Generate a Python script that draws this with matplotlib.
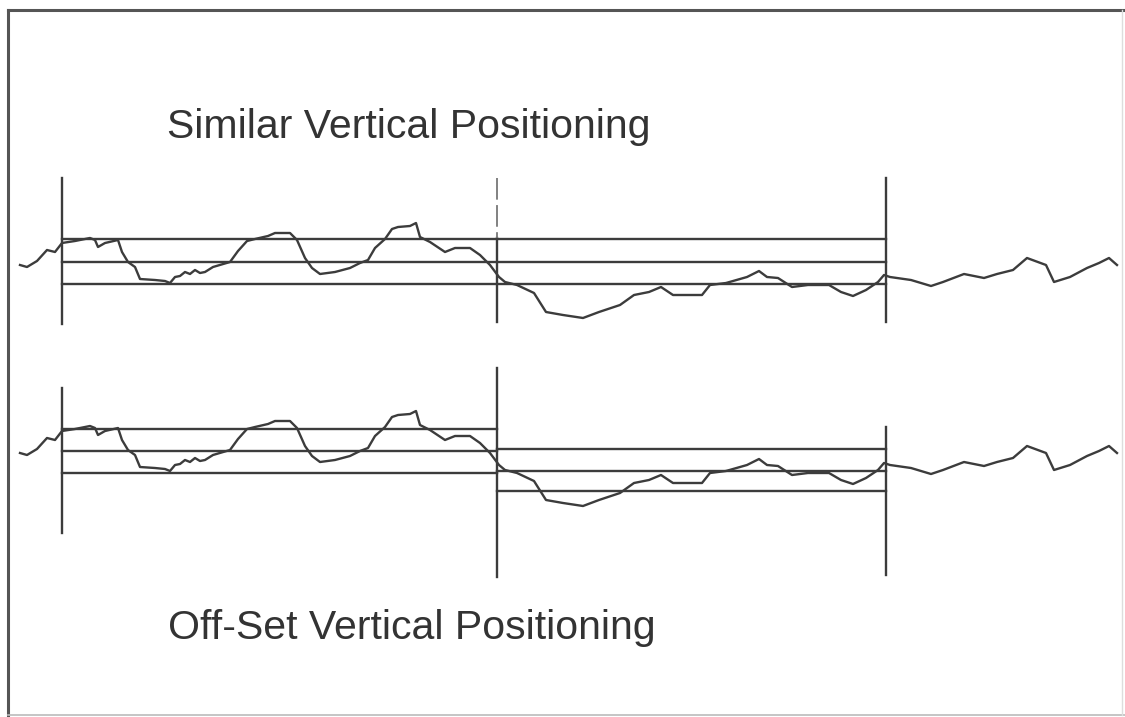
import matplotlib
matplotlib.use("Agg")
import matplotlib.pyplot as plt
import numpy as np

# ---- data (drawing units: pixels, y grows downward) ----
profile_x = [20, 27, 37, 47, 55, 62, 75, 90, 95, 98, 105, 118, 122, 128, 135, 140, 155, 165, 170, 175,
             180, 185, 190, 195, 200, 205, 213, 230, 238, 247, 255, 268, 275, 290, 297, 305, 312, 320,
             335, 350, 360, 368, 375, 385, 392, 398, 410, 416, 420, 430, 445, 455, 470, 480, 490, 499,
             505, 517, 534, 546, 563, 583, 599, 620, 634, 649, 661, 673, 702, 710, 726, 747, 759, 767,
             778, 792, 808, 829, 841, 853, 866, 878, 884, 890, 911, 931, 943, 964, 984, 997, 1013,
             1027, 1046, 1054, 1070, 1087, 1099, 1109, 1117]
profile_y = [265, 267, 261, 250, 252, 243, 241, 238, 240, 247, 243, 240, 252, 262, 267, 279, 280, 281, 283, 277,
             276, 272, 274, 270, 273, 272, 267, 262, 251, 241, 239, 236, 233, 233, 240, 258, 268, 274,
             272, 268, 263, 260, 248, 239, 229, 227, 226, 223, 237, 242, 252, 248, 248, 255, 265, 277,
             282, 285, 293, 312, 315, 318, 312, 305, 295, 292, 287, 295, 295, 285, 283, 277, 271, 277,
             278, 287, 285, 285, 292, 296, 290, 282, 275, 277, 280, 286, 282, 274, 278, 274, 270,
             258, 265, 282, 277, 268, 263, 258, 265]

panel_shift = [0, 188]              # top panel, bottom panel
segment_x = [62, 497, 886]          # segment boundaries
similar_levels = [239, 262, 284]    # same band for both segments
offset_levels_left = [241, 263, 285]
offset_levels_right = [261, 283, 303]

top_marks = [(178, 324), (238, 322), (178, 322)]
faint_mark = (178, 238)             # faint upper part of the middle divider (top panel)
bottom_marks = [(388, 533), (368, 577), (427, 575)]

titles = ["Similar Vertical Positioning", "Off-Set Vertical Positioning"]
title_pos = [(167, 127), (168, 628)]

W, H = 1125, 717
col = "#3c3c3c"
lw = 1.7

fig = plt.figure(figsize=(W / 100, H / 100), dpi=100)
ax = fig.add_axes([0, 0, 1, 1])
ax.set_xlim(0, W)
ax.set_ylim(H, 0)
ax.axis("off")

# frame
ax.plot([8, 8], [10, H], color="#555555", lw=2.2)
ax.plot([8, W], [10, 10], color="#555555", lw=2.2)
ax.plot([8, W], [715, 715], color="#bbbbbb", lw=1.2)
ax.plot([1122, 1122], [10, 715], color="#dddddd", lw=1.0)

px = np.array(profile_x)
py = np.array(profile_y)

# top panel
s = panel_shift[0]
ax.plot(px, py + s, color=col, lw=lw)
for lv in similar_levels:
    ax.plot([segment_x[0], segment_x[2]], [lv + s, lv + s], color=col, lw=lw)
for x, (y0, y1) in zip(segment_x, top_marks):
    ax.plot([x, x], [y0, y1], color=col, lw=lw)
ax.plot([segment_x[1], segment_x[1]], list(faint_mark), color="#777777", lw=1.3,
        linestyle=(0, (12, 3)))

# bottom panel
s = panel_shift[1]
ax.plot(px, py + s, color=col, lw=lw)
for lv in offset_levels_left:
    ax.plot([segment_x[0], segment_x[1]], [lv + s, lv + s], color=col, lw=lw)
for lv in offset_levels_right:
    ax.plot([segment_x[1], segment_x[2]], [lv + s, lv + s], color=col, lw=lw)
for x, (y0, y1) in zip(segment_x, bottom_marks):
    ax.plot([x, x], [y0, y1], color=col, lw=lw)

for t, (x, y) in zip(titles, title_pos):
    ax.text(x, y, t, fontsize=29.5, family="Liberation Sans", color="#333333",
            ha="left", va="center")

fig.savefig("out.png", dpi=100, facecolor="white")
